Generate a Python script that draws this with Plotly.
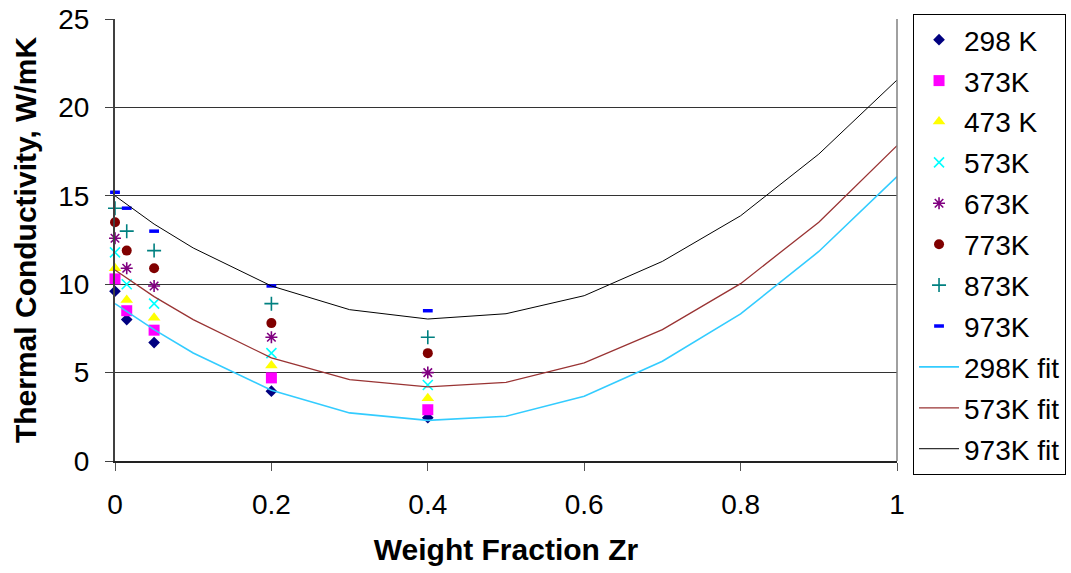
import plotly.graph_objects as go

# ---- data ----
x_data = [0.0, 0.015, 0.05, 0.2, 0.4]
k298 = [9.6, 8.0, 6.7, 3.95, 2.45]
k373 = [10.3, 8.5, 7.4, 4.7, 2.9]
k473 = [10.9, 9.1, 8.1, 5.4, 3.55]
k573 = [11.8, 10.0, 8.9, 6.1, 4.3]
k673 = [12.6, 10.9, 9.9, 7.0, 5.0]
k773 = [13.5, 11.9, 10.9, 7.8, 6.1]
k873 = [14.3, 13.0, 11.9, 8.9, 7.0]
k973 = [15.2, 14.3, 13.0, 9.9, 8.5]

x_fit = [0.0, 0.05, 0.1, 0.2, 0.3, 0.4, 0.5, 0.6, 0.7, 0.8, 0.9, 1.0]
fit298 = [8.9, 7.43, 6.11, 4.0, 2.72, 2.3, 2.53, 3.66, 5.64, 8.32, 11.85, 16.09]
fit573 = [10.8, 9.3, 8.0, 5.83, 4.6, 4.19, 4.45, 5.55, 7.43, 10.03, 13.51, 17.84]
fit973 = [15.0, 13.4, 12.05, 9.9, 8.56, 8.03, 8.33, 9.35, 11.29, 13.87, 17.36, 21.55]

x_ticks = [0, 0.2, 0.4, 0.6, 0.8, 1]
x_ticklabels = ["0", "0.2", "0.4", "0.6", "0.8", "1"]
y_ticks = [0, 5, 10, 15, 20, 25]

FONT = "Arial, Liberation Sans, sans-serif"

fig = go.Figure()

marker_series = [
    ("298 K", k298, dict(symbol="diamond", size=9, color="#000080")),
    ("373K", k373, dict(symbol="square", size=11, color="#FF00FF")),
    ("473 K", k473, dict(symbol="triangle-up", size=11, color="#FFFF00")),
    ("573K", k573, dict(symbol="x-thin", size=10, color="#00FFFF",
                        line=dict(color="#00FFFF", width=1.6))),
    ("673K", k673, dict(symbol="asterisk", size=10, color="#800080",
                        line=dict(color="#800080", width=1.6))),
    ("773K", k773, dict(symbol="circle", size=10, color="#800000")),
    ("873K", k873, dict(symbol="cross-thin", size=10, color="#008080",
                        line=dict(color="#008080", width=1.6))),
    ("973K", k973, dict(symbol="line-ew", size=7, color="#0000FF",
                        line=dict(color="#0000FF", width=3.5))),
]

for i, (name, vals, mk) in enumerate(marker_series):
    fig.add_trace(go.Scatter(x=x_data, y=vals, mode="markers", name=name,
                             marker=mk, cliponaxis=False,
                             legendgroup=f"m{i}"))

line_series = [
    ("298K fit", fit298, "#33CCFF", 1.6),
    ("573K fit", fit573, "#993333", 1.3),
    ("973K fit", fit973, "#000000", 1.0),
]
for j, (name, vals, col, w) in enumerate(line_series):
    fig.add_trace(go.Scatter(x=x_fit, y=vals, mode="lines", name=name,
                             line=dict(color=col, width=w),
                             legendgroup=f"f{j}"))

# right border of plot area
fig.add_shape(type="line", xref="x domain", yref="y domain",
              x0=1, x1=1, y0=0, y1=1, line=dict(color="#808080", width=1.5))

fig.update_layout(
    width=1071, height=573,
    margin=dict(l=115, r=174, t=19, b=112, autoexpand=False),
    paper_bgcolor="white", plot_bgcolor="white",
    font=dict(family=FONT, size=28, color="black"),
    showlegend=True,
    legend=dict(x=1.0205, y=1.0113, xanchor="left", yanchor="top",
                maxheight=480, tracegroupgap=1.5,
                bordercolor="black", borderwidth=1, bgcolor="white",
                font=dict(family=FONT, size=28, color="black"),
                itemwidth=40),
    xaxis=dict(range=[0, 1], tickvals=x_ticks, ticktext=x_ticklabels,
               showgrid=False, zeroline=False,
               showline=True, linecolor="#222222", linewidth=1.5,
               ticks="outside", ticklen=8, tickcolor="#555555",
               ticklabelstandoff=10, ticklabeloverflow="allow",
               tickfont=dict(family=FONT, size=28),
               title=dict(text="<b>Weight Fraction Zr</b>",
                          font=dict(family=FONT, size=30), standoff=20)),
    yaxis=dict(range=[0, 25], tickvals=y_ticks,
               showgrid=True, gridcolor="#333333", gridwidth=1,
               zeroline=False,
               showline=True, linecolor="#404040", linewidth=2,
               ticks="outside", ticklen=8, tickcolor="#404040",
               ticklabelstandoff=10, ticklabeloverflow="allow",
               tickfont=dict(family=FONT, size=28),
               title=dict(text="<b>Thermal Conductivity, W/mK</b>",
                          font=dict(family=FONT, size=30), standoff=13)),
)

fig.write_html("out.html",
               config={"displayModeBar": False},
               post_script="document.body.style.margin='0';"
                           "document.body.style.padding='0';")
